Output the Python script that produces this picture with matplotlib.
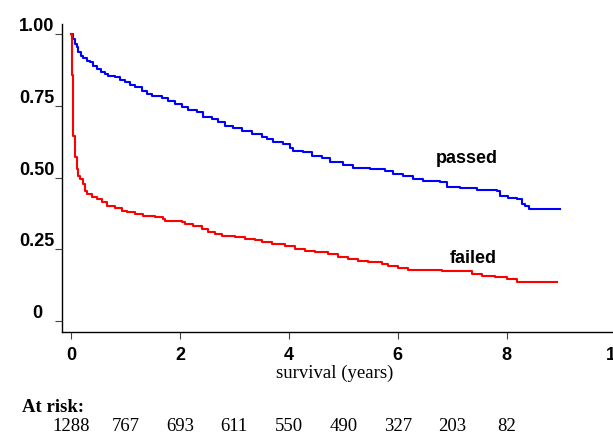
# Kaplan-Meier style survival curves, passed vs failed, with numbers at risk

import matplotlib
matplotlib.use('Agg')
import matplotlib.pyplot as plt
from matplotlib.transforms import blended_transform_factory

# Step curves: (time in years, survival)
passed_t = [0.0, 0.042, 0.073, 0.105, 0.134, 0.178, 0.226, 0.288, 0.349, 0.409, 0.472,
            0.551, 0.624, 0.685, 0.808, 0.900, 0.992, 1.083, 1.175, 1.298, 1.390, 1.482,
            1.665, 1.787, 1.910, 2.033, 2.154, 2.308, 2.429, 2.584, 2.705, 2.828, 2.980,
            3.134, 3.318, 3.502, 3.594, 3.715, 3.898, 4.021, 4.082, 4.266, 4.420, 4.603,
            4.756, 5.000, 5.184, 5.490, 5.766, 5.918, 6.102, 6.285, 6.469, 6.776, 6.899,
            7.143, 7.450, 7.817, 7.878, 8.030, 8.184, 8.276, 8.336, 8.416, 8.979]
passed_s = [1.000, 0.983, 0.965, 0.954, 0.936, 0.924, 0.915, 0.907, 0.901, 0.890, 0.878,
            0.869, 0.861, 0.853, 0.849, 0.841, 0.834, 0.822, 0.814, 0.802, 0.791, 0.783,
            0.776, 0.768, 0.756, 0.745, 0.736, 0.727, 0.710, 0.704, 0.692, 0.680, 0.671,
            0.663, 0.652, 0.642, 0.634, 0.623, 0.617, 0.602, 0.593, 0.588, 0.574, 0.568,
            0.555, 0.544, 0.533, 0.530, 0.524, 0.512, 0.504, 0.495, 0.489, 0.483, 0.466,
            0.462, 0.457, 0.454, 0.437, 0.429, 0.425, 0.408, 0.400, 0.390, 0.390]

failed_t = [0.0, 0.018, 0.042, 0.073, 0.105, 0.134, 0.165, 0.215, 0.257, 0.288, 0.380,
            0.472, 0.563, 0.655, 0.808, 0.930, 1.022, 1.175, 1.328, 1.542, 1.695, 1.726,
            2.033, 2.093, 2.246, 2.400, 2.521, 2.644, 2.767, 3.011, 3.195, 3.379, 3.502,
            3.685, 3.929, 4.113, 4.297, 4.480, 4.725, 4.909, 5.092, 5.276, 5.459, 5.705,
            5.826, 6.010, 6.194, 6.807, 7.358, 7.541, 7.786, 8.000, 8.184, 8.918]
failed_s = [1.000, 0.858, 0.646, 0.570, 0.530, 0.506, 0.495, 0.477, 0.454, 0.442, 0.434,
            0.425, 0.414, 0.400, 0.393, 0.384, 0.379, 0.373, 0.367, 0.361, 0.355, 0.349,
            0.346, 0.338, 0.330, 0.321, 0.311, 0.303, 0.297, 0.292, 0.286, 0.283, 0.276,
            0.268, 0.260, 0.251, 0.245, 0.239, 0.233, 0.225, 0.216, 0.210, 0.205, 0.199,
            0.193, 0.185, 0.179, 0.173, 0.164, 0.158, 0.152, 0.146, 0.135, 0.135]

x_ticks = [0, 2, 4, 6, 8, 10]
y_ticks = [0, 0.25, 0.50, 0.75, 1.00]
y_labels = ['0', '0.25', '0.50', '0.75', '1.00']

risk_years = [0, 1, 2, 3, 4, 5, 6, 7, 8]
risk_counts = [1288, 767, 693, 611, 550, 490, 327, 203, 82]

sans_bold = dict(family='Liberation Sans', weight='bold', size=13)
serif = 'Liberation Serif'

fig = plt.figure(figsize=(6.13, 4.35), dpi=100)
ax = fig.add_axes([0.1011, 0.2345, 0.9103, 0.7080])

ax.step(passed_t, passed_s, where='post', color='#0000ff', lw=1.5)
ax.step(failed_t, failed_s, where='post', color='#ff0000', lw=1.5)

ax.set_xlim(-0.165, 10.08)
ax.set_ylim(-0.038, 1.035)

ax.spines['top'].set_visible(False)
ax.spines['right'].set_visible(False)
for side in ['left', 'bottom']:
    ax.spines[side].set_linewidth(1.0)

ax.set_xticks(x_ticks)
ax.set_xticklabels([str(v) for v in x_ticks], fontdict=sans_bold)
ax.set_yticks(y_ticks)
ax.set_yticklabels(y_labels, fontdict=sans_bold, ha='center', va='bottom')
ax.tick_params(axis='both', direction='out', length=5, width=0.8, color='#444444')
ax.tick_params(axis='x', pad=5)
ax.tick_params(axis='y', pad=13)

ax.text(7.27, 0.571, 'passed', ha='center', va='center', **sans_bold)
ax.text(7.38, 0.221, 'failed', ha='center', va='center', **sans_bold)

fig.text(335 / 613, 0.1425, 'survival (years)', ha='center', va='center',
         family=serif, size=13.5)
fig.text(22 / 613, 0.064, 'At risk:', ha='left', va='center',
         family=serif, weight='bold', size=13.5)

trans = blended_transform_factory(ax.transData, fig.transFigure)
for yr, n in zip(risk_years, risk_counts):
    ax.text(yr, 0.0184, str(n), transform=trans, ha='center', va='center',
            family=serif, size=13.5, clip_on=False)

fig.savefig('out.png', dpi=100)
